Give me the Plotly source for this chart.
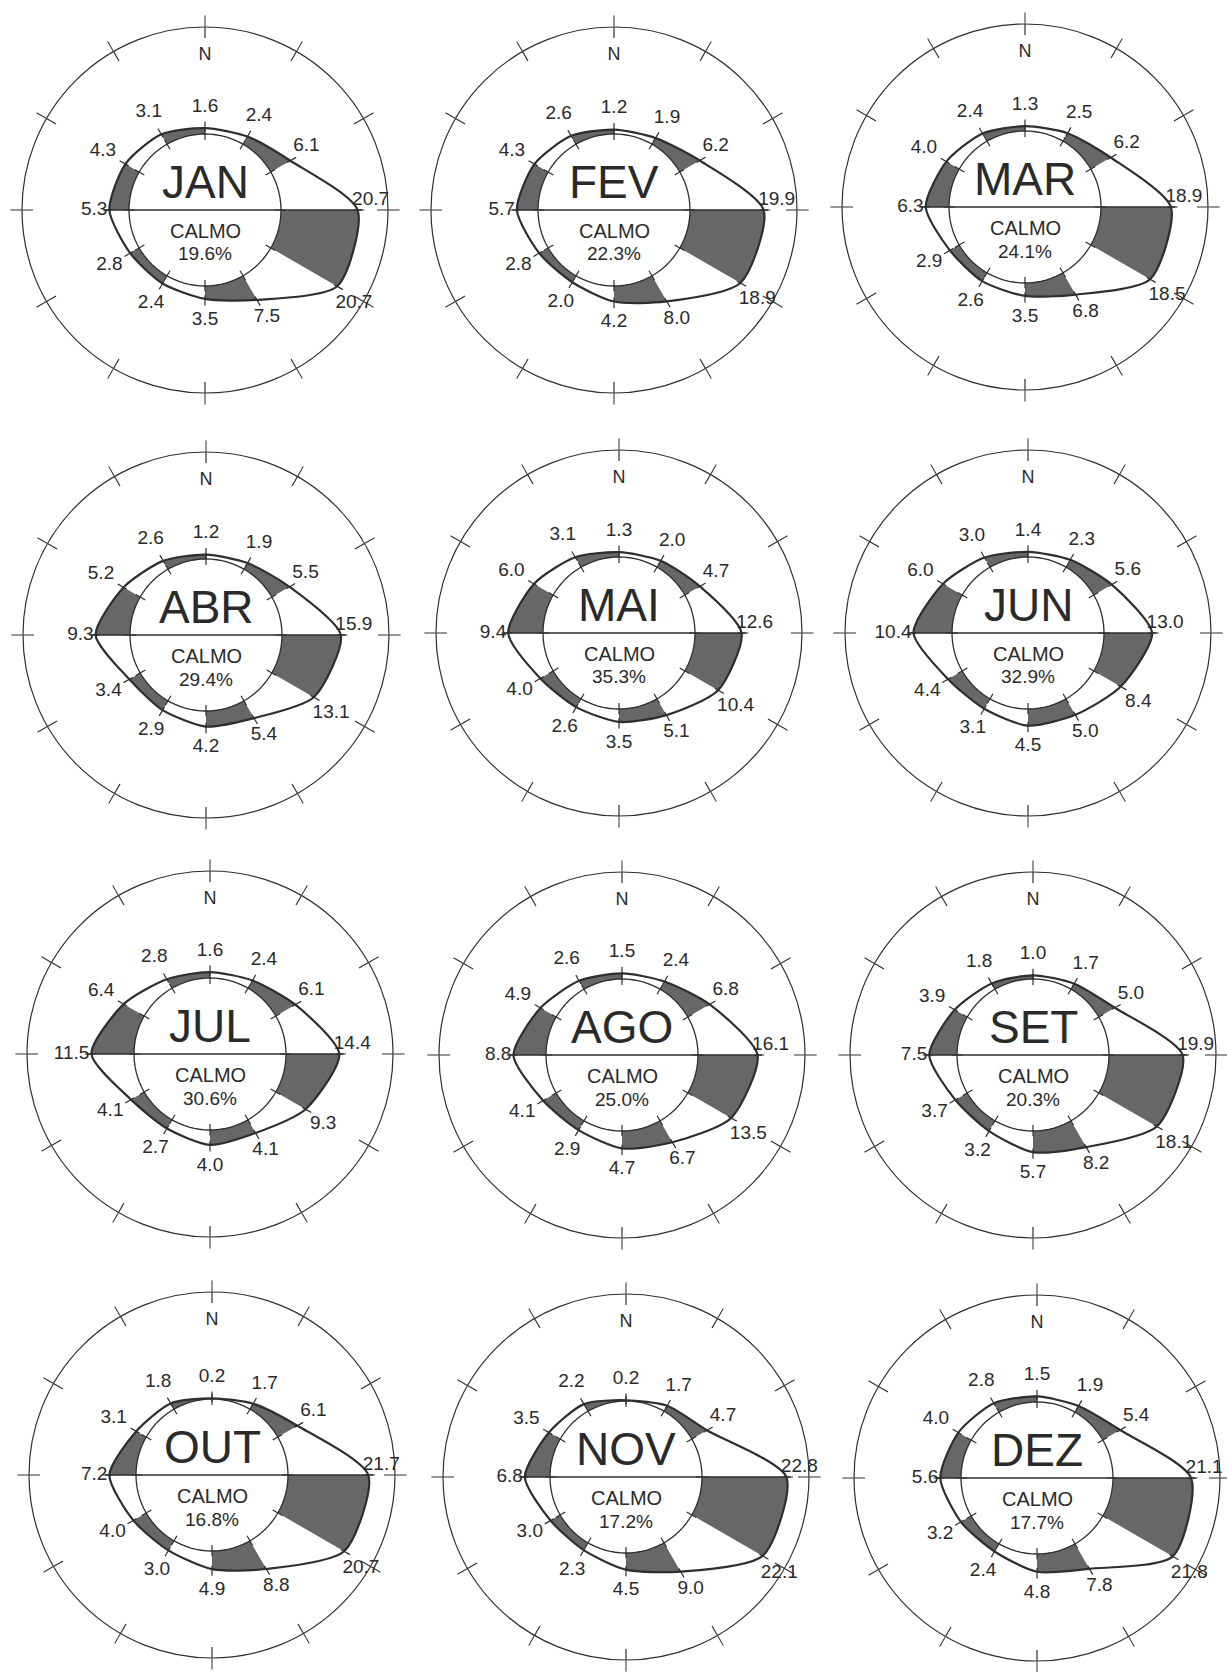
import plotly.graph_objects as go

# ---------------- data ----------------
MONTHS = ["JAN", "FEV", "MAR", "ABR", "MAI", "JUN", "JUL", "AGO", "SET", "OUT", "NOV", "DEZ"]
DIRECTIONS = [0, 30, 60, 90, 120, 150, 180, 210, 240, 270, 300, 330]  # degrees from N, clockwise
CALM = [19.6, 22.3, 24.1, 29.4, 35.3, 32.9, 30.6, 25.0, 20.3, 16.8, 17.2, 17.7]

JAN = [1.6, 2.4, 6.1, 20.7, 20.7, 7.5, 3.5, 2.4, 2.8, 5.3, 4.3, 3.1]
FEV = [1.2, 1.9, 6.2, 19.9, 18.9, 8.0, 4.2, 2.0, 2.8, 5.7, 4.3, 2.6]
MAR = [1.3, 2.5, 6.2, 18.9, 18.5, 6.8, 3.5, 2.6, 2.9, 6.3, 4.0, 2.4]
ABR = [1.2, 1.9, 5.5, 15.9, 13.1, 5.4, 4.2, 2.9, 3.4, 9.3, 5.2, 2.6]
MAI = [1.3, 2.0, 4.7, 12.6, 10.4, 5.1, 3.5, 2.6, 4.0, 9.4, 6.0, 3.1]
JUN = [1.4, 2.3, 5.6, 13.0, 8.4, 5.0, 4.5, 3.1, 4.4, 10.4, 6.0, 3.0]
JUL = [1.6, 2.4, 6.1, 14.4, 9.3, 4.1, 4.0, 2.7, 4.1, 11.5, 6.4, 2.8]
AGO = [1.5, 2.4, 6.8, 16.1, 13.5, 6.7, 4.7, 2.9, 4.1, 8.8, 4.9, 2.6]
SET = [1.0, 1.7, 5.0, 19.9, 18.1, 8.2, 5.7, 3.2, 3.7, 7.5, 3.9, 1.8]
OUT = [0.2, 1.7, 6.1, 21.7, 20.7, 8.8, 4.9, 3.0, 4.0, 7.2, 3.1, 1.8]
NOV = [0.2, 1.7, 4.7, 22.8, 22.1, 9.0, 4.5, 2.3, 3.0, 6.8, 3.5, 2.2]
DEZ = [1.5, 1.9, 5.4, 21.1, 21.8, 7.8, 4.8, 2.4, 3.2, 5.6, 4.0, 2.8]
FREQ = [JAN, FEV, MAR, ABR, MAI, JUN, JUL, AGO, SET, OUT, NOV, DEZ]

# ---------------- layout / style ----------------
W, H = 1227, 1672
CENTERS = [(205, 210), (614, 210), (1025, 207),
           (206, 635), (619, 633), (1028, 633),
           (210, 1054), (622, 1055), (1033, 1055),
           (212, 1475), (626, 1477), (1037, 1478)]
R_OUT = 183      # px, outer frame circle
R_IN = 76        # px, calm circle
PXU = 3.7        # px per percent
RMIN = -R_IN / PXU
RMAX = (R_OUT - R_IN) / PXU

LINE = "#2e2e2e"
GRAY = "#676767"
TEXT = "#2a2a2a"
FONT = "Liberation Sans, Arial, sans-serif"
SMOOTH = 0.7

# label placement per direction (gap in px from the point, textposition, angular nudge)
LABEL_GAP = [21, 23, 21, 13, 23, 20, 21, 23, 24, 2, 26, 25]
LABEL_POS = ["middle center", "middle center", "middle center", "top center",
             "middle center", "middle center", "middle center", "middle center",
             "middle center", "middle left", "middle center", "middle center"]
LABEL_NUDGE = [0, 0, -2, 0, 2, 0, 0, 0, 0, 0, 0, 0]
WHITE_SECTORS = [0, 60, 120, 180, 240, 300]   # starting angles of unshaded sectors


def r_of_px(px):
    return px / PXU + RMIN


fig = go.Figure()
layout_polars = {}
annotations = []

for i, (month, vals, calm, (cx, cy)) in enumerate(zip(MONTHS, FREQ, CALM, CENTERS)):
    sub = "polar" if i == 0 else f"polar{i + 1}"
    closed_r = vals + [vals[0]]
    closed_t = DIRECTIONS + [DIRECTIONS[0]]
    common = dict(subplot=sub, showlegend=False, hoverinfo="skip")

    # gray area under the smooth curve
    fig.add_trace(go.Scatterpolar(r=closed_r, theta=closed_t, mode="lines",
                                  line=dict(width=0, shape="spline", smoothing=SMOOTH, color=GRAY),
                                  fill="toself", fillcolor=GRAY, **common))
    # white (unshaded) sectors
    rw = r_of_px(181)
    for a in WHITE_SECTORS:
        fig.add_trace(go.Scatterpolar(r=[RMIN, rw, rw, RMIN], theta=[a, a, a + 30, a],
                                      mode="lines", line=dict(width=0, color="white"),
                                      fill="toself", fillcolor="white", **common))
    # calm circle
    circ_t = list(range(0, 361, 4))
    fig.add_trace(go.Scatterpolar(r=[0] * len(circ_t), theta=circ_t, mode="lines",
                                  line=dict(width=1.3, color=LINE),
                                  fill="toself", fillcolor="white", **common))
    # curve outline
    fig.add_trace(go.Scatterpolar(r=closed_r, theta=closed_t, mode="lines",
                                  line=dict(width=2.2, shape="spline", smoothing=SMOOTH, color=LINE),
                                  **common))
    # W-E line
    fig.add_trace(go.Scatterpolar(r=[vals[9] + 1.2, vals[3] + 1.2], theta=[270, 90], mode="lines",
                                  line=dict(width=1.3, color=LINE), **common))
    # small ticks on the calm circle and on the curve
    tr, tt = [], []
    for d, v in zip(DIRECTIONS, vals):
        tr += [-1.6, 1.4, None, v - 1.0, v + 1.8, None]
        tt += [d, d, None, d, d, None]
    fig.add_trace(go.Scatterpolar(r=tr, theta=tt, mode="lines", connectgaps=False,
                                  line=dict(width=1.2, color=LINE), cliponaxis=False, **common))
    # inner half of the frame ticks
    fr, ft = [], []
    for d in DIRECTIONS:
        fr += [RMAX - 11 / PXU, RMAX, None]
        ft += [d, d, None]
    fig.add_trace(go.Scatterpolar(r=fr, theta=ft, mode="lines", connectgaps=False,
                                  line=dict(width=1.2, color=LINE), **common))
    # value labels
    lr = [v + g / PXU for v, g in zip(vals, LABEL_GAP)]
    lt = [d + n for d, n in zip(DIRECTIONS, LABEL_NUDGE)]
    fig.add_trace(go.Scatterpolar(r=lr, theta=lt, mode="text",
                                  text=[f"{v:.1f}" for v in vals], textposition=LABEL_POS,
                                  textfont=dict(family=FONT, size=19, color=TEXT),
                                  cliponaxis=False, **common))
    # N label
    fig.add_trace(go.Scatterpolar(r=[r_of_px(155)], theta=[0], mode="text", text=["N"],
                                  textposition="middle center",
                                  textfont=dict(family=FONT, size=18, color=TEXT),
                                  cliponaxis=False, **common))

    layout_polars[sub] = dict(
        domain=dict(x=[(cx - R_OUT) / W, (cx + R_OUT) / W],
                    y=[1 - (cy + R_OUT) / H, 1 - (cy - R_OUT) / H]),
        bgcolor="white",
        radialaxis=dict(range=[RMIN, RMAX], visible=False),
        angularaxis=dict(direction="clockwise", rotation=90, showgrid=False,
                         showline=True, linecolor=LINE, linewidth=1.2,
                         ticks="outside", ticklen=11, tickwidth=1.2, tickcolor=LINE,
                         tickmode="array", tickvals=DIRECTIONS, showticklabels=False),
    )

    annotations += [
        dict(x=cx / W, y=1 - (cy - 28) / H, xref="paper", yref="paper", text=month,
             showarrow=False, xanchor="center", yanchor="middle",
             font=dict(family=FONT, size=46, color=TEXT)),
        dict(x=cx / W, y=1 - (cy + 21) / H, xref="paper", yref="paper", text="CALMO",
             showarrow=False, xanchor="center", yanchor="middle",
             font=dict(family=FONT, size=20, color=TEXT)),
        dict(x=cx / W, y=1 - (cy + 44) / H, xref="paper", yref="paper", text=f"{calm:.1f}%",
             showarrow=False, xanchor="center", yanchor="middle",
             font=dict(family=FONT, size=19, color=TEXT)),
    ]

fig.update_layout(width=W, height=H, margin=dict(l=0, r=0, t=0, b=0),
                  paper_bgcolor="white", plot_bgcolor="white", showlegend=False,
                  annotations=annotations, **layout_polars)

fig.write_html("out.html")
